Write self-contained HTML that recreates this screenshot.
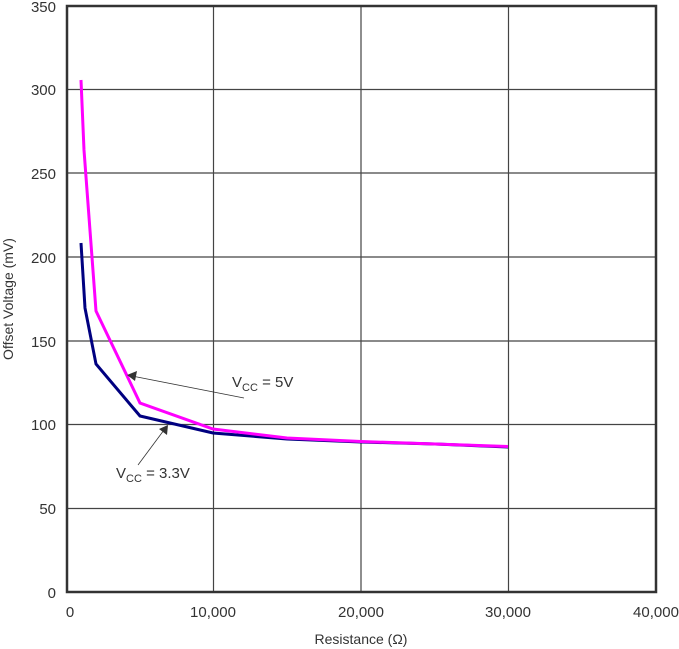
<!DOCTYPE html>
<html><head><style>body{margin:0;background:#fff}svg{display:block}</style></head><body>
<svg width="679" height="649" xmlns="http://www.w3.org/2000/svg" font-family="Liberation Sans, sans-serif">
<rect width="679" height="649" fill="#fff"/>
<g stroke="#444" stroke-width="1.2">
<line x1="213.5" y1="6" x2="213.5" y2="592"/>
<line x1="361" y1="6" x2="361" y2="592"/>
<line x1="508.5" y1="6" x2="508.5" y2="592"/>
<line x1="67" y1="89.5" x2="656" y2="89.5"/>
<line x1="67" y1="173" x2="656" y2="173"/>
<line x1="67" y1="257" x2="656" y2="257"/>
<line x1="67" y1="341" x2="656" y2="341"/>
<line x1="67" y1="424.5" x2="656" y2="424.5"/>
<line x1="67" y1="508.5" x2="656" y2="508.5"/>
</g>
<rect x="67" y="6" width="589" height="586" fill="none" stroke="#333" stroke-width="2.5"/>
<polyline fill="none" stroke="#000080" stroke-width="3" points="81,243 85,308 96,364 140,416 213,433 287,439 361,442 435,444 508,447"/>
<polyline fill="none" stroke="#ff00ff" stroke-width="3" points="81,80 84,150 96,311 140,403 213,429 287,438 361,441.5 435,444 508,446.5"/>
<g stroke="#333" stroke-width="0.8">
<line x1="244" y1="398" x2="132" y2="376"/>
<line x1="138" y1="465" x2="164" y2="430"/>
</g>
<polygon points="127,375 137,371 135,381" fill="#333"/>
<polygon points="168,425 167,435 159,429" fill="#333"/>
<g font-size="15" fill="#333">
<text x="232" y="387">V<tspan font-size="11" dy="4">CC</tspan><tspan dy="-4"> = 5V</tspan></text>
<text x="116" y="478">V<tspan font-size="11" dy="4">CC</tspan><tspan dy="-4"> = 3.3V</tspan></text>
</g>
<g font-size="15" fill="#333" text-anchor="end">
<text x="56" y="12">350</text>
<text x="56" y="95">300</text>
<text x="56" y="179">250</text>
<text x="56" y="263">200</text>
<text x="56" y="347">150</text>
<text x="56" y="430">100</text>
<text x="56" y="514">50</text>
<text x="56" y="598">0</text>
</g>
<g font-size="15" fill="#333" text-anchor="middle">
<text x="70" y="617">0</text>
<text x="213" y="617">10,000</text>
<text x="361" y="617">20,000</text>
<text x="508" y="617">30,000</text>
<text x="656" y="617">40,000</text>
<text x="361" y="644" font-size="14">Resistance (Ω)</text>
<text transform="translate(13,299) rotate(-90)" font-size="14">Offset Voltage (mV)</text>
</g>
</svg>
</body></html>
